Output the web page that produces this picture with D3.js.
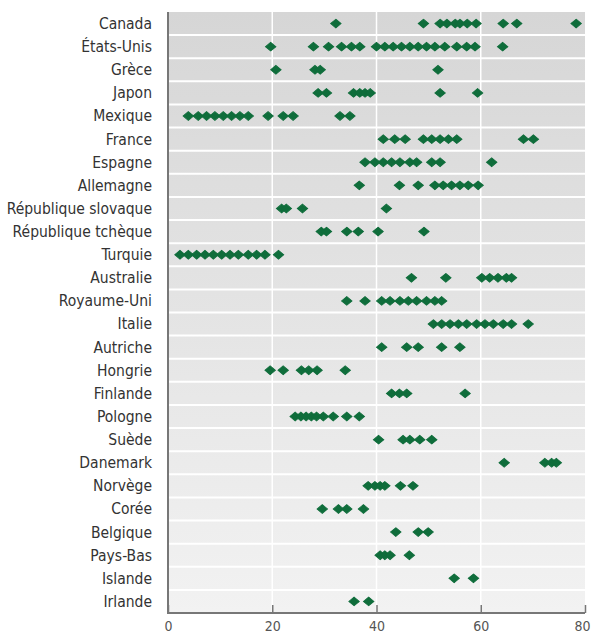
<!DOCTYPE html>
<head>
    <style>
        body { margin: 0; background: #fff; }
        .label text {
            font: 15.5px "DejaVu Sans Condensed", "Liberation Sans Narrow", sans-serif;
            fill: #333;
        }
        .xaxis text {
            font: 14px "DejaVu Sans Condensed", sans-serif;
            fill: #555;
        }
    </style>
    <script src="https://d3js.org/d3.v7.min.js"></script>
</head>
<body>
    <svg width="592" height="637"></svg>
    <script>

        var countries = ["Canada", "États-Unis", "Grèce", "Japon", "Mexique", "France", "Espagne",
            "Allemagne", "République slovaque", "République tchèque", "Turquie", "Australie",
            "Royaume-Uni", "Italie", "Autriche", "Hongrie", "Finlande", "Pologne", "Suède",
            "Danemark", "Norvège", "Corée", "Belgique", "Pays-Bas", "Islande", "Irlande"];

        var values = [
            [32.2, 49, 52.2, 53.5, 55.1, 56, 57.4, 59.1, 64.3, 66.9, 78.3],
            [19.7, 27.9, 30.8, 33.3, 35.2, 36.8, 40, 41.6, 43.2, 44.8, 46.4, 48, 49.6, 51.2, 53.1, 55.4, 57.3, 58.9, 64.2],
            [20.7, 28.2, 29.2, 51.8],
            [28.8, 30.4, 35.6, 36.8, 37.8, 38.8, 52.2, 59.4],
            [3.9, 5.8, 7.4, 9, 10.6, 12.2, 13.8, 15.4, 19.2, 22.1, 24, 33, 34.9],
            [41.3, 43.5, 45.5, 49, 50.6, 52.2, 53.8, 55.4, 68.2, 70.1],
            [37.8, 39.7, 41.3, 42.9, 44.5, 46.4, 47.7, 50.6, 52.2, 62.1],
            [36.7, 44.4, 48, 51.2, 52.8, 54.4, 56, 57.6, 59.5],
            [21.8, 22.7, 25.8, 41.9],
            [29.4, 30.4, 34.3, 36.5, 40.3, 49.1],
            [2.3, 3.9, 5.5, 7.1, 8.7, 10.3, 11.9, 13.5, 15.4, 17, 18.6, 21.2],
            [46.7, 53.3, 60.2, 61.7, 63.3, 64.9, 65.9],
            [34.3, 37.8, 41, 42.6, 44.5, 46.1, 47.7, 49.6, 51.2, 52.5],
            [50.9, 52.5, 54.1, 55.7, 57.3, 59.2, 60.8, 62.4, 64.3, 65.9, 69.1],
            [41, 45.8, 48, 52.5, 56],
            [19.6, 22.1, 25.6, 27, 28.6, 34],
            [42.9, 44.4, 45.8, 57],
            [24.4, 25.5, 26.5, 27.5, 28.5, 29.8, 31.7, 34.3, 36.7],
            [40.4, 45.1, 46.4, 48.3, 50.6],
            [64.5, 72.3, 73.6, 74.5],
            [38.4, 39.7, 40.7, 41.6, 44.6, 47],
            [29.6, 32.7, 34.3, 37.5],
            [43.7, 48, 49.9],
            [40.7, 41.6, 42.6, 46.3],
            [54.9, 58.6],
            [35.7, 38.5]
        ];

        var xTicks = [0, 20, 40, 60, 80];

        var svg = d3.select("svg"),
            mLeft = 168, mRight = 585, mTop = 12, mBottom = 613;

        var x = d3.scaleLinear().domain([0, 80]).range([mLeft, mRight]);
        var y = d3.scaleBand().domain(countries).range([mTop, mBottom]);

        var defs = svg.append("defs");
        var grad = defs.append("linearGradient")
            .attr("id", "bg").attr("x1", 0).attr("y1", 0).attr("x2", 0).attr("y2", 1);
        grad.append("stop").attr("offset", "0%").attr("stop-color", "#d6d6d6");
        grad.append("stop").attr("offset", "100%").attr("stop-color", "#f2f2f2");

        svg.append("rect")
           .attr("x", mLeft).attr("y", mTop)
           .attr("width", mRight - mLeft).attr("height", mBottom - mTop)
           .attr("fill", "url(#bg)");

        // white separators between rows
        svg.append("g").selectAll("line")
           .data(countries.slice(1))
           .enter().append("line")
           .attr("x1", mLeft).attr("x2", mRight)
           .attr("y1", function(d) { return y(d); })
           .attr("y2", function(d) { return y(d); })
           .attr("stroke", "#fff").attr("stroke-width", 2);

        // vertical gridlines
        svg.append("g").selectAll("line")
           .data(xTicks.slice(1, -1))
           .enter().append("line")
           .attr("x1", function(d) { return x(d); })
           .attr("x2", function(d) { return x(d); })
           .attr("y1", mTop).attr("y2", mBottom)
           .attr("stroke", "#fff").attr("stroke-width", 1.5);

        // country labels
        svg.append("g").attr("class", "label")
           .selectAll("text")
           .data(countries)
           .enter().append("text")
           .attr("x", mLeft - 16)
           .attr("y", function(d) { return y(d) + y.bandwidth() / 2; })
           .attr("dy", "0.35em")
           .attr("text-anchor", "end")
           .text(function(d) { return d; });

        // diamonds
        var diamond = d3.symbol().type(d3.symbolDiamond).size(42);
        var rows = svg.append("g").selectAll("g")
           .data(countries)
           .enter().append("g");
        rows.selectAll("path")
           .data(function(d, i) { return values[i].map(function(v) { return { c: d, v: v }; }); })
           .enter().append("path")
           .attr("d", diamond)
           .attr("transform", function(d) {
               return "translate(" + x(d.v) + "," + (y(d.c) + y.bandwidth() / 2) + ") scale(1.5,0.72)";
           })
           .attr("fill", "#0f6d3b")
           .attr("stroke", "#0f6d3b").attr("stroke-width", 0.8);

        // axes
        var xAxis = d3.axisBottom(x).tickValues(xTicks).tickSize(0).tickPadding(8);
        var gx = svg.append("g").attr("class", "xaxis")
           .attr("transform", "translate(0," + mBottom + ")")
           .call(xAxis);
        gx.select(".domain").remove();
        gx.selectAll(".tick").append("line")
           .attr("y1", 0).attr("y2", -8)
           .attr("stroke", "#777").attr("stroke-width", 1.5);
        // keep the last label inside the window
        gx.selectAll(".tick text").filter(function(d) { return d === 80; })
           .attr("dx", "-3");

        svg.append("path")
           .attr("d", "M" + mLeft + "," + mTop + "V" + mBottom + "H" + mRight)
           .attr("fill", "none").attr("stroke", "#777").attr("stroke-width", 2);

    </script>
</body>
</html>
